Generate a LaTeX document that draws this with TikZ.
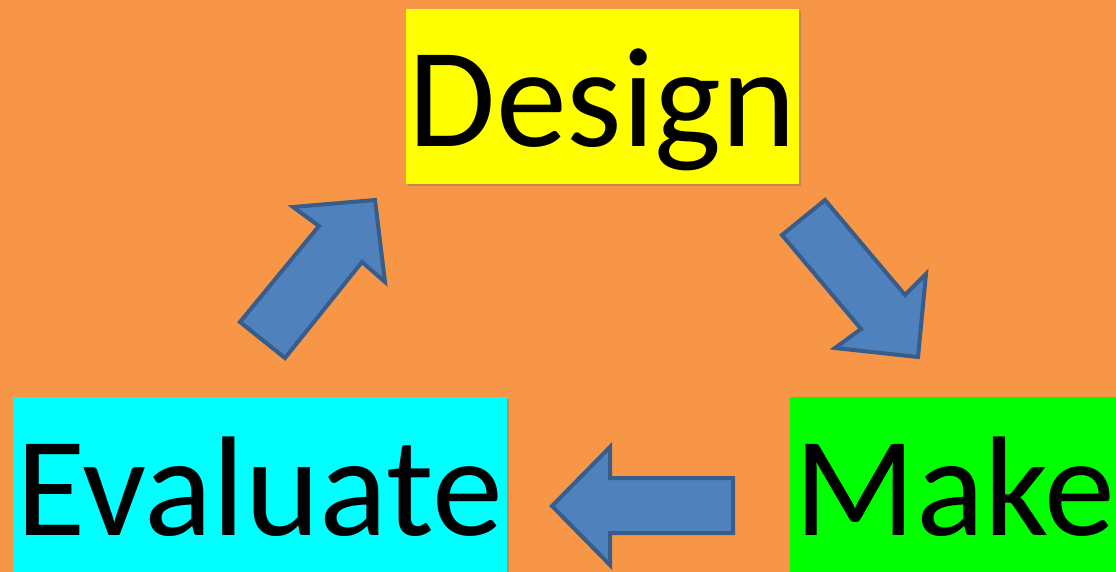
\documentclass[tikz,border=0pt]{standalone}
\usepackage{fontspec}
\setmainfont{Carlito}
\usepackage{tikz}
\usetikzlibrary{shadows}
\definecolor{bgorange}{HTML}{F79646}
\definecolor{arrowblue}{HTML}{4F81BD}
\definecolor{arrowedge}{HTML}{385D8A}
\definecolor{designfill}{HTML}{FFFF00}
\definecolor{evalfill}{HTML}{00FFFF}
\definecolor{makefill}{HTML}{00FF00}
\tikzset{
  stagebox/.style={rectangle, inner sep=0pt, font=\fontsize{142}{142}\selectfont,
    drop shadow={opacity=0.35, shadow xshift=2pt, shadow yshift=-2pt, fill=black!60}},
  blockarrow/.style={fill=arrowblue, draw=arrowedge, line width=4pt, line join=miter}
}
\begin{document}
\begin{tikzpicture}[x=1pt,y=-1pt]
\useasboundingbox (0,0) rectangle (1116,572);
\clip (0,0) rectangle (1116,572);
\fill [bgorange] (0,0) rectangle (1116,572);

\node [stagebox, fill=designfill, minimum width=393pt, text height=138pt, text depth=37pt] (design) at (602.5,96.5) {Design};
\node [stagebox, fill=evalfill, minimum width=494pt, text height=138pt, text depth=40pt] (evaluate) at (260,486) {Evaluate};
\node [stagebox, fill=makefill, minimum width=330pt, text height=138pt, text depth=40pt] (make) at (955,486) {Make};

% design -> make
\draw [blockarrow] (782,235) -- (825,200) -- (905,295) -- (926,274) -- (918,357) -- (835,348) -- (861,329) -- cycle;
% make -> evaluate
\draw [blockarrow] (733,478) -- (733,533) -- (610,533) -- (610,565) -- (552,506) -- (610,447) -- (610,478) -- cycle;
% evaluate -> design
\draw [blockarrow] (240,322) -- (285,358) -- (362,262) -- (385,282) -- (375,200) -- (293,207) -- (319,226) -- cycle;

\end{tikzpicture}
\end{document}
